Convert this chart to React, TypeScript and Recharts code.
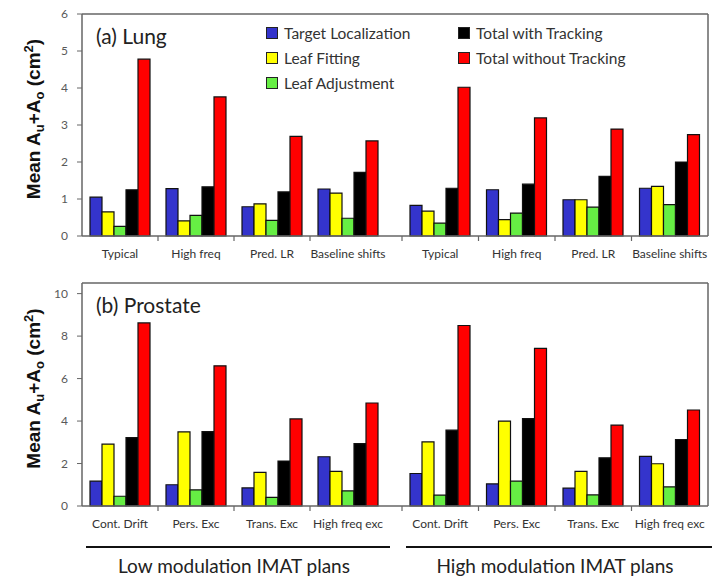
import React from "react";
import { Bar, BarChart, Legend, ReferenceLine, XAxis, YAxis } from "recharts";

const seriesNames = [
  "Target Localization",
  "Leaf Fitting",
  "Leaf Adjustment",
  "Total with Tracking",
  "Total without Tracking",
];
const seriesKeys = ["target", "fitting", "adjust", "withT", "withoutT"];
const seriesColors = ["#3434cc", "#ffff00", "#66ee44", "#000000", "#ff0000"];

const lungCats = ["Typical", "High freq", "Pred. LR", "Baseline shifts"];
const prostateCats = ["Cont. Drift", "Pers. Exc", "Trans. Exc", "High freq exc"];
const groupNames = ["Low modulation IMAT plans", "High modulation IMAT plans"];

// (a) Lung, first half
const lung1Target = [1.05, 1.28, 0.79, 1.27];
const lung1Fitting = [0.65, 0.41, 0.87, 1.16];
const lung1Adjust = [0.26, 0.56, 0.42, 0.48];
const lung1With = [1.25, 1.33, 1.19, 1.72];
const lung1Without = [4.78, 3.76, 2.69, 2.57];

// (a) Lung, second half
const lung2Target = [0.83, 1.25, 0.98, 1.29];
const lung2Fitting = [0.67, 0.44, 0.98, 1.34];
const lung2Adjust = [0.35, 0.62, 0.78, 0.85];
const lung2With = [1.29, 1.4, 1.61, 2.0];
const lung2Without = [4.02, 3.19, 2.89, 2.74];

// (b) Prostate, low modulation
const pro1Target = [1.17, 1.0, 0.85, 2.32];
const pro1Fitting = [2.91, 3.49, 1.58, 1.63];
const pro1Adjust = [0.46, 0.76, 0.41, 0.71];
const pro1With = [3.22, 3.5, 2.12, 2.94];
const pro1Without = [8.62, 6.6, 4.1, 4.85];

// (b) Prostate, high modulation
const pro2Target = [1.53, 1.04, 0.84, 2.34];
const pro2Fitting = [3.02, 4.0, 1.63, 1.99];
const pro2Adjust = [0.51, 1.17, 0.52, 0.9];
const pro2With = [3.57, 4.11, 2.27, 3.13];
const pro2Without = [8.5, 7.42, 3.81, 4.52];

const lungTicks = [0, 1, 2, 3, 4, 5, 6];
const prostateTicks = [0, 2, 4, 6, 8, 10];

const buildRows = (cats: string[], cols: number[][], group: string) =>
  cats.map((cat, i) => {
    const row: any = { cat, group };
    seriesKeys.forEach((k, s) => (row[k] = cols[s][i]));
    return row;
  });

const lung1 = buildRows(lungCats, [lung1Target, lung1Fitting, lung1Adjust, lung1With, lung1Without], "");
const lung2 = buildRows(lungCats, [lung2Target, lung2Fitting, lung2Adjust, lung2With, lung2Without], "");
const pro1 = buildRows(prostateCats, [pro1Target, pro1Fitting, pro1Adjust, pro1With, pro1Without], groupNames[0]);
const pro2 = buildRows(prostateCats, [pro2Target, pro2Fitting, pro2Adjust, pro2With, pro2Without], groupNames[1]);

const FONT = "Lato, 'Open Sans', sans-serif";
const AXIS = "#666666";

const CatTick = (props: any) => {
  const { x, y, payload, index, skipFirst } = props;
  const half = payload?.offset ?? 38;
  return (
    <g>
      {!(skipFirst && index === 0) && (
        <line x1={x - half} x2={x - half} y1={y} y2={y + 5} stroke={AXIS} strokeWidth={1.2} />
      )}
      <text x={x} y={y + 22} textAnchor="middle" fontSize={12} fill="#333" fontFamily={FONT}>
        {payload.value}
      </text>
    </g>
  );
};

const GroupTick = (props: any) => {
  const { x, y, payload } = props;
  const half = payload?.offset ?? 150;
  return (
    <g>
      <line x1={x - half + 4} x2={x + half + 4} y1={y + 13} y2={y + 13} stroke="#111" strokeWidth={2} />
      <text x={x} y={y + 39} textAnchor="middle" fontSize={19} fill="#222" fontFamily={FONT}>
        {payload.value}
      </text>
    </g>
  );
};

const YTitle = (props: any) => {
  const vb = props.viewBox || { x: 0, y: 0, width: 82, height: 200 };
  const cx = vb.x + 40;
  const cy = vb.y + vb.height / 2 - 6;
  return (
    <text
      x={cx}
      y={cy}
      transform={`rotate(-90, ${cx}, ${cy})`}
      textAnchor="middle"
      fontSize={19}
      fontWeight="bold"
      fill="#111"
      fontFamily="'Liberation Sans', Arial, sans-serif"
    >
      Mean A
      <tspan fontSize={13} dy={4}>u</tspan>
      <tspan dy={-4}>+A</tspan>
      <tspan fontSize={13} dy={4}>o</tspan>
      <tspan dy={-4}> (cm</tspan>
      <tspan fontSize={13} dy={-7}>2</tspan>
      <tspan dy={7}>)</tspan>
    </text>
  );
};

const renderLegend = (props: any) => {
  const payload = [...(props.payload || [])].sort(
    (a: any, b: any) => seriesNames.indexOf(a.value) - seriesNames.indexOf(b.value)
  );
  return (
    <div
      style={{
        display: "grid",
        gridTemplateColumns: "192px 220px",
        gridTemplateRows: "repeat(3, 25px)",
        gridAutoFlow: "column",
        fontFamily: FONT,
      }}
    >
      {payload.map((entry: any, i: number) => (
        <div key={i} style={{ display: "flex", alignItems: "center", whiteSpace: "nowrap" }}>
          <span
            style={{
              display: "inline-block",
              width: 10,
              height: 10,
              background: seriesColors[seriesNames.indexOf(entry.value)] ?? entry.color,
              border: "1px solid #222",
              marginRight: 6,
            }}
          />
          <span style={{ fontSize: 15.5, color: "#333" }}>{entry.value}</span>
        </div>
      ))}
    </div>
  );
};

interface HalfProps {
  data: any[];
  side: "left" | "right";
  width: number;
  height: number;
  top: number;
  left: number;
  marginTop: number;
  domainMax: number;
  ticks: number[];
  withLegend?: boolean;
  withGroup?: boolean;
}

const Half = ({ data, side, width, height, top, left, marginTop, domainMax, ticks, withLegend, withGroup }: HalfProps) => {
  const padding = side === "left" ? { left: 0, right: 9 } : { left: 7, right: 0 };
  return (
    <div style={{ position: "absolute", left, top }}>
      <BarChart
        width={width}
        height={height}
        data={data}
        margin={{ top: marginTop, right: side === "left" ? 0 : 13, bottom: 0, left: 0 }}
        barCategoryGap={8}
        barGap={0}
      >
        <XAxis
          dataKey="cat"
          height={withGroup ? 28 : 34}
          padding={padding}
          interval={0}
          tickLine={false}
          tickSize={0}
          tickMargin={0}
          axisLine={{ stroke: AXIS, strokeWidth: 1.5 }}
          tick={(p: any) => <CatTick {...p} skipFirst={side === "left"} />}
        />
        {withGroup && (
          <XAxis
            xAxisId="grp"
            dataKey="group"
            allowDuplicatedCategory={false}
            height={44}
            padding={padding}
            interval={0}
            axisLine={false}
            tickLine={false}
            tickSize={0}
            tickMargin={0}
            tick={(p: any) => <GroupTick {...p} />}
          />
        )}
        {side === "left" ? (
          <YAxis
            width={82}
            domain={[0, domainMax]}
            ticks={ticks}
            interval={0}
            tickSize={5}
            tickMargin={9}
            tickLine={{ stroke: AXIS }}
            axisLine={{ stroke: AXIS, strokeWidth: 1.5 }}
            tick={{ fontSize: 12, fill: "#595959", fontFamily: FONT }}
            label={(p: any) => <YTitle {...p} />}
          />
        ) : (
          <YAxis hide domain={[0, domainMax]} ticks={ticks} />
        )}
        {side === "right" && (
          <YAxis
            yAxisId="box"
            orientation="right"
            width={1}
            domain={[0, domainMax]}
            tick={false}
            tickLine={false}
            axisLine={{ stroke: AXIS, strokeWidth: 1.5 }}
          />
        )}
        <ReferenceLine y={domainMax} stroke={AXIS} strokeWidth={1.5} />
        {withLegend && (
          <Legend
            layout="horizontal"
            verticalAlign="middle"
            align="center"
            wrapperStyle={{ left: 266, top: 20, width: 420, height: 80 }}
            content={renderLegend}
          />
        )}
        {seriesKeys.map((k, i) => (
          <Bar
            key={k}
            dataKey={k}
            name={seriesNames[i]}
            fill={seriesColors[i]}
            stroke="#111"
            strokeWidth={1.2}
            isAnimationActive={false}
          />
        ))}
      </BarChart>
    </div>
  );
};

const titleStyle: React.CSSProperties = {
  position: "absolute",
  left: 96,
  fontFamily: FONT,
  fontSize: 21,
  lineHeight: "21px",
  color: "#222",
};

export default function App() {
  return (
    <div
      style={{
        position: "absolute",
        left: 0,
        top: 0,
        width: 722,
        height: 580,
        background: "#fff",
        fontFamily: FONT,
      }}
    >
      <Half data={lung1} side="left" left={0} top={0} width={395} height={270} marginTop={14} domainMax={6} ticks={lungTicks} withLegend />
      <Half data={lung2} side="right" left={395} top={0} width={327} height={270} marginTop={14} domainMax={6} ticks={lungTicks} />
      <Half data={pro1} side="left" left={0} top={270} width={395} height={308} marginTop={13} domainMax={10.5} ticks={prostateTicks} withGroup />
      <Half data={pro2} side="right" left={395} top={270} width={327} height={308} marginTop={13} domainMax={10.5} ticks={prostateTicks} withGroup />
      <div style={{ ...titleStyle, top: 25 }}>(a) Lung</div>
      <div style={{ ...titleStyle, top: 294 }}>(b) Prostate</div>
    </div>
  );
}
